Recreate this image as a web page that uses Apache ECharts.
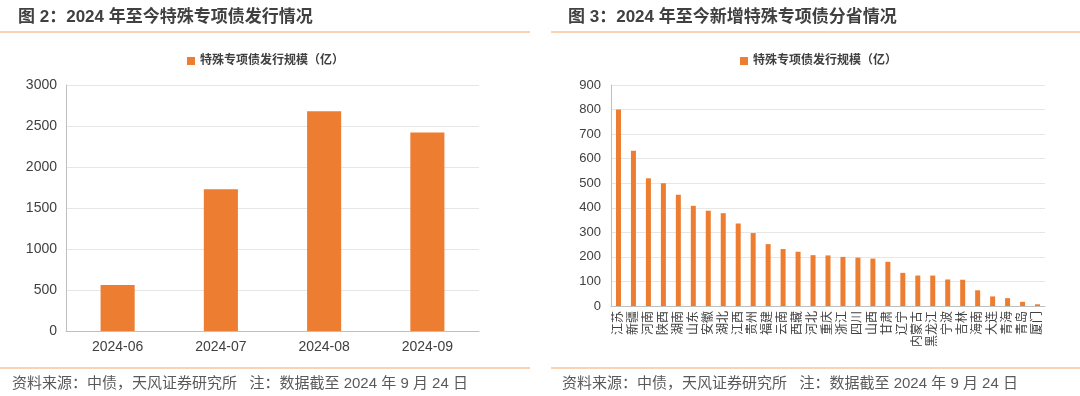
<!DOCTYPE html>
<html>
<head>
<meta charset="utf-8">
<script src="https://cdn.jsdelivr.net/npm/echarts@6/dist/echarts.min.js"></script>
<style>
    html, body { margin: 0; padding: 0; background: #fff; }
    #chart { width: 1080px; height: 396px; }
</style>
</head>
<body>
<div id="chart"></div>
<script>
    // 图2 数据
    var months = ['2024-06', '2024-07', '2024-08', '2024-09'];
    var monthValues = [560, 1730, 2680, 2420];
    // 图3 数据
    var provinces = ['江苏', '新疆', '河南', '陕西', '湖南', '山东', '安徽', '湖北', '江西', '贵州',
        '福建', '云南', '西藏', '河北', '重庆', '浙江', '四川', '山西', '甘肃', '辽宁',
        '内蒙古', '黑龙江', '宁波', '吉林', '海南', '大连', '青海', '青岛', '厦门'];
    var provinceValues = [800, 632, 520, 500, 453, 408, 388, 378, 336, 297,
        252, 232, 221, 207, 206, 200, 197, 193, 180, 135,
        124, 124, 108, 107, 64, 39, 32, 17, 7];

    var seriesName = '特殊专项债发行规模（亿）';
    var font = '"Liberation Sans", "Noto Sans CJK SC", sans-serif';
    var orange = '#ED7D31';
    var lineColor = '#F8C49C';
    var note = '资料来源：中债，天风证券研究所   注：数据截至 2024 年 9 月 24 日';
    var plain = function (v) { return String(v); };

    var chart = echarts.init(document.getElementById('chart'));

    var option = {
        animation: false,
        textStyle: { fontFamily: font },
        title: [
            {
                text: '图 2：2024 年至今特殊专项债发行情况',
                left: 13, top: 4,
                textStyle: { fontSize: 17, fontWeight: 'bold', color: '#404040', fontFamily: font }
            },
            {
                text: '图 3：2024 年至今新增特殊专项债分省情况',
                left: 563, top: 4,
                textStyle: { fontSize: 17, fontWeight: 'bold', color: '#404040', fontFamily: font }
            }
        ],
        graphic: [
            { type: 'line', shape: { x1: 0, y1: 32, x2: 530, y2: 32 }, style: { stroke: lineColor, lineWidth: 1.5 } },
            { type: 'line', shape: { x1: 551, y1: 32, x2: 1080, y2: 32 }, style: { stroke: lineColor, lineWidth: 1.5 } },
            { type: 'line', shape: { x1: 0, y1: 368, x2: 530, y2: 368 }, style: { stroke: lineColor, lineWidth: 1.5 } },
            { type: 'line', shape: { x1: 551, y1: 368, x2: 1080, y2: 368 }, style: { stroke: lineColor, lineWidth: 1.5 } },
            {
                type: 'text', left: 12, top: 376,
                style: { text: note, fill: '#595959', font: '15px ' + font }
            },
            {
                type: 'text', left: 562, top: 376,
                style: { text: note, fill: '#595959', font: '15px ' + font }
            }
        ],
        legend: [
            {
                data: [seriesName], left: 182, top: 50,
                itemWidth: 8, itemHeight: 8, icon: 'rect', itemGap: 4,
                textStyle: { fontSize: 12, fontWeight: 'bold', color: '#404040', fontFamily: font }
            },
            {
                data: [seriesName], left: 735, top: 50,
                itemWidth: 8, itemHeight: 8, icon: 'rect', itemGap: 4,
                textStyle: { fontSize: 12, fontWeight: 'bold', color: '#404040', fontFamily: font }
            }
        ],
        grid: [
            { left: 66, right: 601, top: 85, bottom: 65 },
            { left: 611, right: 35, top: 85, bottom: 90 }
        ],
        xAxis: [
            {
                type: 'category', gridIndex: 0, data: months,
                axisLine: { lineStyle: { color: '#bfbfbf' } },
                axisTick: { lineStyle: { color: '#bfbfbf' }, length: 4 },
                axisLabel: { color: '#404040', fontSize: 14, margin: 9 }
            },
            {
                type: 'category', gridIndex: 1, data: provinces,
                axisLine: { lineStyle: { color: '#bfbfbf' } },
                axisTick: { lineStyle: { color: '#bfbfbf' }, length: 4 },
                axisLabel: { color: '#404040', fontSize: 12, margin: 5, interval: 0, rotate: 90 }
            }
        ],
        yAxis: [
            {
                type: 'value', gridIndex: 0, min: 0, max: 3000, interval: 500,
                axisLine: { show: true, lineStyle: { color: '#bfbfbf' } },
                axisTick: { show: false },
                splitLine: { lineStyle: { color: '#e6e6e6' } },
                axisLabel: { color: '#404040', fontSize: 14, margin: 9, formatter: plain }
            },
            {
                type: 'value', gridIndex: 1, min: 0, max: 900, interval: 100,
                axisLine: { show: true, lineStyle: { color: '#bfbfbf' } },
                axisTick: { show: false },
                splitLine: { lineStyle: { color: '#e6e6e6' } },
                axisLabel: { color: '#404040', fontSize: 13, margin: 10, formatter: plain }
            }
        ],
        series: [
            {
                name: seriesName, type: 'bar', xAxisIndex: 0, yAxisIndex: 0,
                data: monthValues, barWidth: '33%',
                itemStyle: { color: orange }
            },
            {
                name: seriesName, type: 'bar', xAxisIndex: 1, yAxisIndex: 1,
                data: provinceValues, barWidth: 5,
                itemStyle: { color: orange }
            }
        ]
    };

    chart.setOption(option);
</script>
</body>
</html>
